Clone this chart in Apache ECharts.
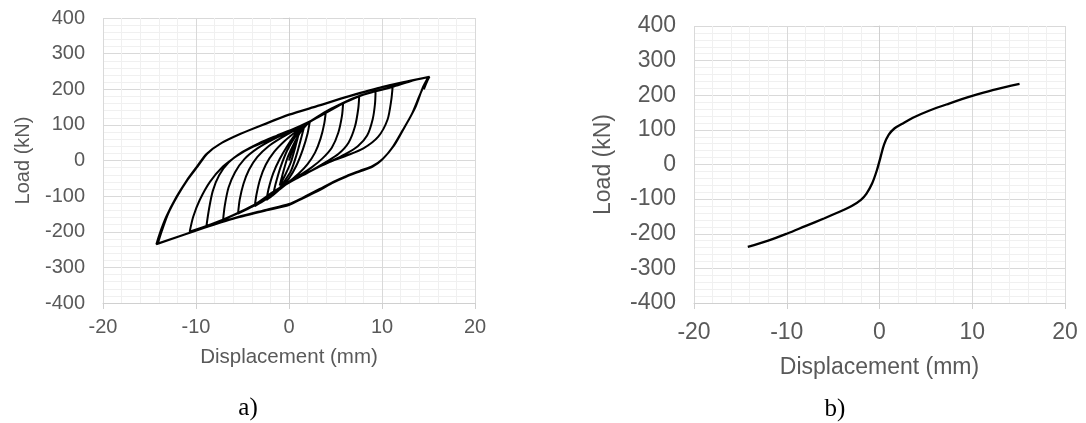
<!DOCTYPE html>
<html><head><meta charset="utf-8">
<script src="https://cdn.jsdelivr.net/npm/echarts@6/dist/echarts.min.js"></script>
<style>html,body{margin:0;padding:0;background:#fff;} #c{width:1086px;height:423px;}</style>
</head><body><div id="c"></div>
<script>
// ---- data ----
var xTicks = [-20, -10, 0, 10, 20];
var yTicks = [-400, -300, -200, -100, 0, 100, 200, 300, 400];

// a) cyclic hysteresis loops, [displacement mm, load kN]
var cycle1 = [[0,0],[0.5,38],[1.0,70],[0.7,40],[0.2,-5],[-0.4,-40],[-1.0,-70],[-0.7,-40],[-0.2,5],[0.4,40],[1.0,70]];
var cycle2 = [[1.3,82],[1.6,92],[1.3,62],[0.8,15],[0.2,-30],[-0.6,-62],[-1.2,-84],[-1.7,-95],[-1.4,-62],[-0.9,-18],[-0.2,28],[0.6,64],[1.2,84],[1.6,92]];
var cycle3 = [[2.24,109],[2.0,76],[1.5,32],[0.8,-14],[0,-50],[-0.9,-78],[-1.7,-97],[-2.42,-111],[-2.2,-80],[-1.7,-36],[-1.0,4],[-0.2,40],[0.7,74],[1.5,95],[2.24,109]];
var cycle4 = [[3.1,123],[3.96,137],[3.8,105],[3.4,62],[2.8,22],[2.0,-10],[1.0,-38],[0,-60],[-1.2,-85],[-2.42,-108],[-3.68,-128],[-3.5,-96],[-3.1,-52],[-2.5,-12],[-1.6,24],[-0.5,54],[0.8,82],[2.24,109],[3.96,137]];
var cycle5 = [[4.9,150],[5.82,161],[5.7,126],[5.3,78],[4.6,36],[3.6,6],[2.4,-20],[1.0,-44],[-0.3,-66],[-1.7,-93],[-3.7,-126],[-5.48,-149],[-5.3,-110],[-4.9,-66],[-4.3,-26],[-3.4,10],[-2.2,40],[-0.8,64],[0.8,88],[2.4,111],[4.0,138],[5.82,161]];
var cycle6 = [[6.7,171],[7.55,180],[7.45,146],[7.1,96],[6.4,50],[5.3,18],[4.0,-4],[2.5,-27],[1.0,-48],[-0.5,-70],[-2.2,-100],[-3.7,-126],[-5.5,-148],[-7.09,-167],[-6.9,-126],[-6.5,-76],[-5.8,-33],[-4.8,4],[-3.4,34],[-1.8,58],[0,80],[1.6,99],[3.5,127],[5.8,160],[7.55,180]];
var cycle7 = [[8.4,188],[9.31,194],[9.25,160],[9.0,116],[8.4,70],[7.4,40],[6.0,17],[4.3,-5],[2.5,-27],[0.8,-50],[-0.8,-74],[-2.4,-104],[-3.7,-126],[-5.5,-148],[-7.1,-166],[-8.88,-184],[-8.6,-136],[-8.2,-86],[-7.5,-41],[-6.5,-6],[-5.0,24],[-3.2,49],[-1.3,70],[0.6,90],[2.4,112],[4.0,138],[5.8,162],[7.55,181],[9.31,194]];
var cycle8 = [[10.2,200],[11.14,206],[11.0,170],[10.6,115],[9.6,67],[8.0,34],[6.2,14],[4.0,-8],[1.9,-36],[0.1,-60],[-1.7,-88],[-3.7,-124],[-5.5,-147],[-7.1,-166],[-8.9,-184],[-10.68,-200],[-10.3,-158],[-9.6,-111],[-8.5,-60],[-7.1,-17],[-5.65,12],[-3.9,38],[-1.35,66],[1.2,90],[2.4,111],[4.0,138],[5.8,162],[7.55,181],[9.3,195],[11.14,207]];
var cycle9 = [[13,222],[14.97,234],[14.4,206],[13.6,150],[12.4,92],[11.3,42],[10.0,2],[9.0,-17],[7.6,-31],[6.2,-45],[4.75,-62],[3.3,-83],[1.5,-106],[0,-125],[-2.4,-140],[-6.2,-165],[-9.8,-195],[-14.26,-235],[-13.9,-205],[-13.2,-158],[-12.1,-102],[-11,-56],[-9.9,-17],[-8.9,18],[-7.45,46],[-5.3,74],[-2.4,104],[0,128],[3.0,152],[6.5,180],[10.1,206],[14.97,234]];
var cycle10 = [[14.7,220],[14.0,180],[13.2,130],[12.2,84],[11.2,40],[10.1,5],[9.0,-15],[7.6,-29],[6.2,-43],[4.75,-60],[3.3,-80],[1.5,-104],[0,-122],[-2.4,-138],[-6.2,-164],[-9.8,-195],[-14.1,-233],[-13.7,-200],[-13.0,-150],[-12.0,-100],[-10.9,-54],[-9.8,-16],[-8.8,19],[-7.4,47],[-5.2,75],[-2.4,105],[0,129],[3.0,153],[6.5,181],[10.1,207],[15.1,235],[14.9,225],[14.5,200]];

// b) backbone (envelope) curve
var backboneDisp = [-14.2,-12,-10,-8,-6,-4,-3,-2,-1.4,-0.8,-0.3,0.1,0.5,1.0,1.6,2.4,3.6,5.4,7.5,10,12.2,15.1];
var backboneLoad = [-238,-220,-200,-178,-156,-133,-120,-102,-84,-55,-18,20,58,86,104,117,135,156,176,198,215,233];

var xName = 'Displacement (mm)';
var yName = 'Load (kN)';
var captions = ['a)', 'b)'];

// ---- build ----
var loopData = [].concat(cycle1, cycle2, cycle3, cycle4, cycle5, cycle6, cycle7, cycle8, cycle9, cycle10);
var backboneData = backboneDisp.map(function (d, i) { return [d, backboneLoad[i]]; });

var FONT = '"Liberation Sans", Arial, sans-serif';
var GRAY = '#595959';
function xAxis(gi, fs, nfs, margin, gap) {
  return {
    type: 'value', gridIndex: gi, min: xTicks[0], max: xTicks[xTicks.length - 1], interval: 10,
    axisLine: { show: true, onZero: false, lineStyle: { color: '#d0d0d0', width: 1 } },
    axisTick: { show: true, length: 6, lineStyle: { color: '#d0d0d0' } },
    minorTick: { show: false, splitNumber: 5 },
    splitLine: { show: true, lineStyle: { color: '#d9d9d9', width: 1 } },
    minorSplitLine: { show: true, lineStyle: { color: '#f0f0f0', width: 1 } },
    axisLabel: { color: GRAY, fontSize: fs, fontFamily: FONT, margin: margin },
    name: xName, nameLocation: 'middle', nameGap: gap,
    nameTextStyle: { color: GRAY, fontSize: nfs, fontFamily: FONT }
  };
}
function yAxis(gi, fs, nfs, margin, gap) {
  return {
    type: 'value', gridIndex: gi, min: yTicks[0], max: yTicks[yTicks.length - 1], interval: 100,
    axisLine: { show: true, lineStyle: { color: '#d0d0d0', width: 1 } },
    axisTick: { show: true, length: 6, lineStyle: { color: '#d0d0d0' } },
    minorTick: { show: false, splitNumber: 5 },
    splitLine: { show: true, lineStyle: { color: '#d9d9d9', width: 1 } },
    minorSplitLine: { show: true, lineStyle: { color: '#f0f0f0', width: 1 } },
    axisLabel: { color: GRAY, fontSize: fs, fontFamily: FONT, margin: margin },
    name: yName, nameLocation: 'middle', nameGap: gap, nameRotate: 90,
    nameTextStyle: { color: GRAY, fontSize: nfs, fontFamily: FONT }
  };
}

var chart = echarts.init(document.getElementById('c'), null, { renderer: 'canvas' });
chart.setOption({
  animation: false,
  backgroundColor: '#ffffff',
  grid: [
    { left: 103, top: 18, width: 372, height: 285, containLabel: false, outerBoundsMode: 'none' },
    { left: 694, top: 26, width: 371, height: 277, containLabel: false, outerBoundsMode: 'none' }
  ],
  xAxis: [xAxis(0, 20, 20.5, 14, 44), xAxis(1, 23, 23, 18, 53)],
  yAxis: [yAxis(0, 20, 20, 18, 70), yAxis(1, 23, 23, 18, 79)],
  series: [
    { type: 'line', xAxisIndex: 0, yAxisIndex: 0, data: loopData, showSymbol: false, smooth: 0.25,
      lineStyle: { color: '#000', width: 2 }, silent: true },
    { type: 'line', xAxisIndex: 1, yAxisIndex: 1, data: backboneData, showSymbol: false, smooth: 0.35,
      lineStyle: { color: '#000', width: 2.3 }, silent: true }
  ],
  graphic: [
    { type: 'text', x: 248, y: 408, style: { text: captions[0], font: '25px "Liberation Serif", "Times New Roman", serif', fill: '#000', textAlign: 'center', textVerticalAlign: 'middle' } },
    { type: 'text', x: 835, y: 409, style: { text: captions[1], font: '25px "Liberation Serif", "Times New Roman", serif', fill: '#000', textAlign: 'center', textVerticalAlign: 'middle' } }
  ]
});
</script></body></html>
